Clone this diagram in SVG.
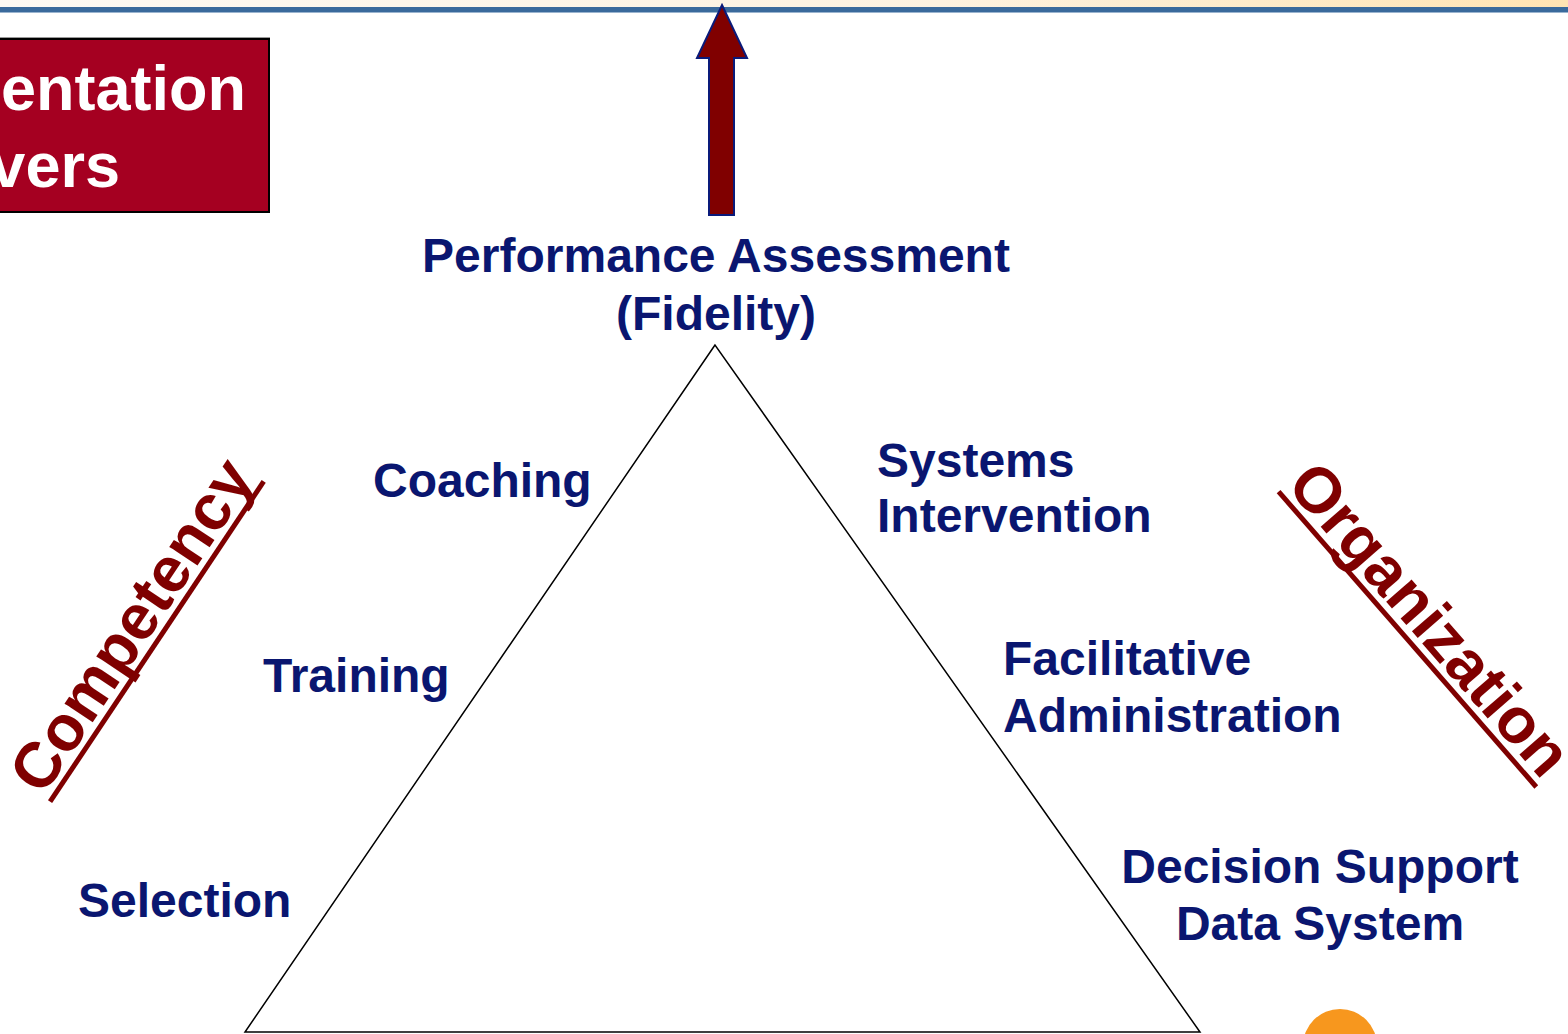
<svg xmlns="http://www.w3.org/2000/svg" width="1568" height="1034" viewBox="0 0 1568 1034">
<defs>
<linearGradient id="band" x1="0" y1="0" x2="1" y2="0">
<stop offset="0" stop-color="#fdf9f3"/>
<stop offset="0.6" stop-color="#fdf2e0"/>
<stop offset="1" stop-color="#ffe4b3"/>
</linearGradient>
<style>
.lbl{font-family:"Liberation Sans",Arial,sans-serif;font-weight:bold;font-size:48px;fill:#0a1670}
.side{font-family:"Liberation Sans",Arial,sans-serif;font-weight:bold;font-size:64px;fill:#7f0000}
.uline{stroke:#7f0000;stroke-width:5}
.title{font-family:"Liberation Sans",Arial,sans-serif;font-weight:bold;font-size:63px;fill:#ffffff}
</style>
</defs>
<rect x="0" y="0" width="1568" height="1034" fill="#ffffff"/>
<g id="header">
<rect x="0" y="0" width="1568" height="7" fill="url(#band)"/>
<rect x="0" y="7" width="1568" height="5" fill="#3a6a9c"/>
<rect x="0" y="12" width="1568" height="1" fill="#9ab4cf"/>
</g>
<g id="title-box">
<rect x="-300" y="37" width="570" height="1" fill="#9a9a9a"/>
<rect x="-300" y="39" width="569" height="173" fill="#a50021" stroke="#000000" stroke-width="2"/>
<text class="title" x="246" y="110" text-anchor="end">entation</text>
<text class="title" x="120" y="187" text-anchor="end">vers</text>
</g>
<g id="connectors">
<polygon points="715,345 245,1032 1200,1032" fill="none" stroke="#000000" stroke-width="1.5"/>
<polygon points="722,5 747,58 734,58 734,215 709,215 709,58 697,58" fill="#800000" stroke="#0a1a7a" stroke-width="2" stroke-linejoin="miter"/>
</g>
<g id="performance">
<text class="lbl" x="716" y="272" text-anchor="middle">Performance Assessment</text>
<text class="lbl" x="716" y="330" text-anchor="middle">(Fidelity)</text>
</g>
<g id="coaching"><text class="lbl" x="373" y="497">Coaching</text></g>
<g id="training"><text class="lbl" x="263" y="692">Training</text></g>
<g id="selection"><text class="lbl" x="78" y="917">Selection</text></g>
<g id="systems">
<text class="lbl" x="877" y="477">Systems</text>
<text class="lbl" x="877" y="532">Intervention</text>
</g>
<g id="facilitative">
<text class="lbl" x="1003" y="675">Facilitative</text>
<text class="lbl" x="1003" y="732">Administration</text>
</g>
<g id="decision">
<text class="lbl" x="1320" y="883" text-anchor="middle">Decision Support</text>
<text class="lbl" x="1320" y="940" text-anchor="middle">Data System</text>
</g>
<g id="competency" transform="translate(43,797) rotate(-56.3)">
<text class="side" x="0" y="0">Competency</text>
<line class="uline" x1="0" y1="8.5" x2="385" y2="8.5"/>
</g>
<g id="organization" transform="translate(1285,486) rotate(48.9)">
<text class="side" x="0" y="0">Organization</text>
<line class="uline" x1="0" y1="8.5" x2="392" y2="8.5"/>
</g>
<g id="dot"><circle cx="1340" cy="1046" r="37" fill="#f7971e"/></g>
</svg>
